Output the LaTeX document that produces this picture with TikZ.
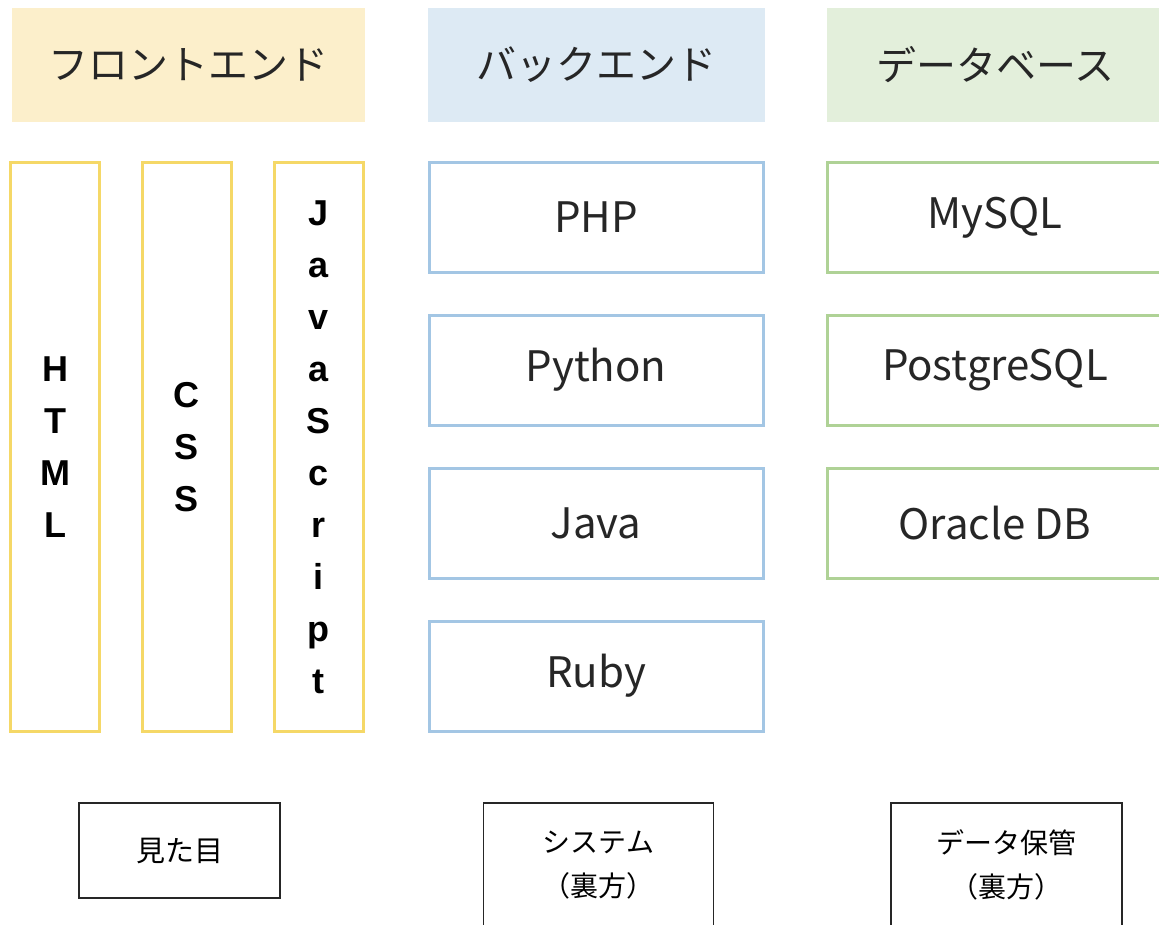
\documentclass[tikz,border=0pt]{standalone}
\usepackage{fontspec}
\setmainfont{Liberation Sans}
\newfontfamily\jpfont{Noto Sans CJK JP}
\newfontfamily\lettfont{Liberation Sans}
\definecolor{feFill}{HTML}{FCEFCB}
\definecolor{beFill}{HTML}{DDEAF4}
\definecolor{dbFill}{HTML}{E3EFDB}
\definecolor{feLine}{HTML}{F5D867}
\definecolor{beLine}{HTML}{A3C6E4}
\definecolor{dbLine}{HTML}{AFD296}
\tikzset{
  hdr/.style={rectangle, inner sep=0pt, outer sep=0pt, draw=none,
    font=\jpfont\fontsize{40}{46}\selectfont, text=black!85},
  vbox/.style={rectangle, inner sep=0pt, outer sep=0pt, line width=3pt, fill=white,
    minimum width=89pt, minimum height=569pt, align=center,
    font=\lettfont\bfseries\fontsize{36}{52}\selectfont},
  tbox/.style={rectangle, inner sep=0pt, outer sep=0pt, line width=3pt, fill=white,
    minimum width=334pt, minimum height=110pt,
    font=\jpfont\fontsize{42}{48}\selectfont, text=black!85},
  nbox/.style={rectangle, inner sep=0pt, outer sep=0pt, line width=1.4pt, draw=black!85, fill=white,
    align=center, font=\jpfont\fontsize{29}{44}\selectfont},
  ntext/.style={font=\jpfont\fontsize{28}{44}\selectfont, align=center, inner sep=0pt}
}
\begin{document}
\begin{tikzpicture}[x=1pt,y=-1pt]
\clip (0,0) rectangle (1159,924);
\fill[white] (0,0) rectangle (1159,924);
% headers
\node[hdr, fill=feFill, minimum width=353pt, minimum height=114pt] (hfe) at (188.5,65) {フロントエンド};
\node[hdr, fill=beFill, minimum width=337pt, minimum height=114pt] (hbe) at (596.5,65) {バックエンド};
\node[hdr, fill=dbFill, minimum width=336pt, minimum height=114pt] (hdb) at (995,65) {データベース};
% frontend columns
\node[vbox, draw=feLine] (html) at (55,447) {H\\T\\M\\L};
\node[vbox, draw=feLine] (css) at (186.5,447) {C\\S\\S};
\node[vbox, draw=feLine] (js) at (318.5,447) {J\\a\\v\\a\\S\\c\\r\\i\\p\\t};
% backend
\node[tbox, draw=beLine] (php) at (596,217.5) {PHP};
\node[tbox, draw=beLine] (py) at (596,370) {Python};
\node[tbox, draw=beLine] (java) at (596,523) {Java};
\node[tbox, draw=beLine] (ruby) at (596,676) {Ruby};
% database
\node[tbox, draw=dbLine, minimum width=336pt] (mysql) at (995,217.5) {MySQL};
\node[tbox, draw=dbLine, minimum width=336pt] (pg) at (995,370) {PostgreSQL};
\node[tbox, draw=dbLine, minimum width=336pt] (ora) at (995,523) {Oracle DB};
% bottom notes
\node[nbox, minimum width=201pt, minimum height=95pt] (look) at (179.5,850.5) {見た目};
\node[nbox, minimum width=230pt, minimum height=150pt] (sys) at (598.5,878) {};
\node[nbox, minimum width=231pt, minimum height=150pt] (data) at (1006.5,878) {};
\node[ntext] (syst) at (598.5,865) {システム\\（裏方）};
\node[ntext] (datat) at (1006.5,865) {データ保管\\（裏方）};
\end{tikzpicture}
\end{document}
